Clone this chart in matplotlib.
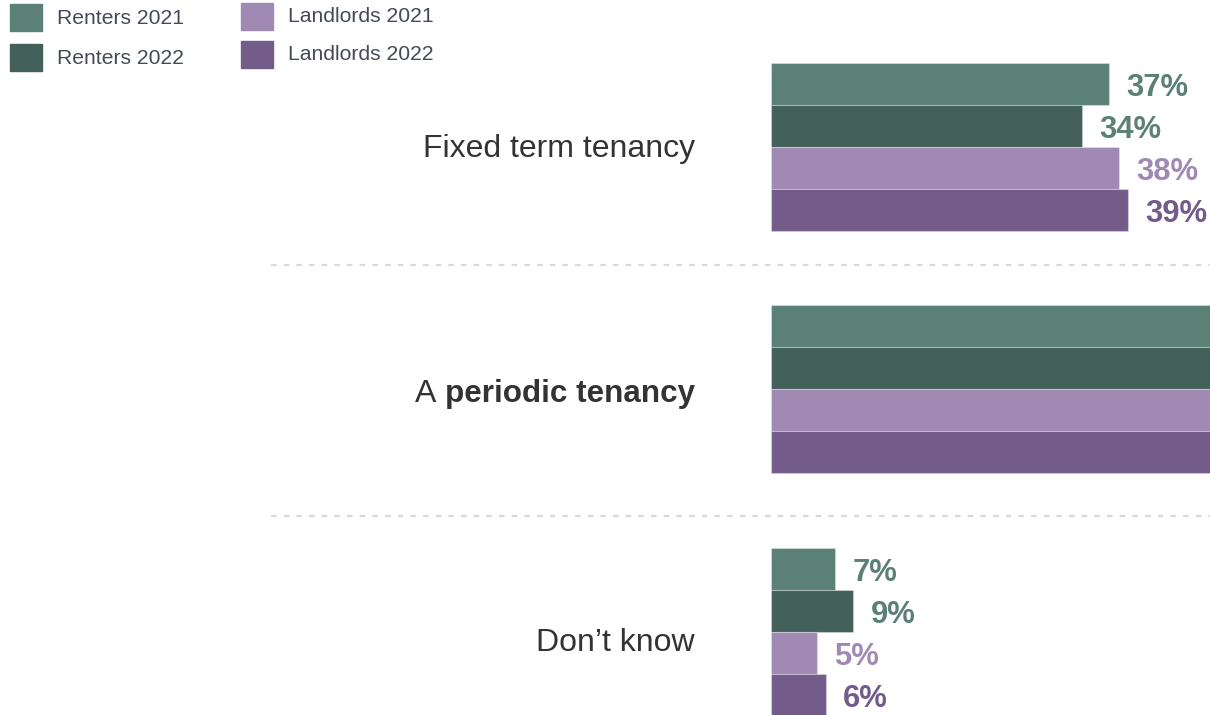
import numpy as np
import matplotlib
matplotlib.use("Agg")
import matplotlib.pyplot as plt
from matplotlib.patches import Rectangle
import matplotlib.transforms as mtransforms

plt.rcParams["font.family"] = ["Liberation Sans", "DejaVu Sans"]

# ── Data ───────────────────────────────────────────────────
categories = ["Fixed term tenancy", "A periodic tenancy", "Don\u2019t know"]
series = ["Renters 2021", "Renters 2022", "Landlords 2021", "Landlords 2022"]
renters_2021 = [37, 56, 7]
renters_2022 = [34, 57, 9]
landlords_2021 = [38, 57, 5]
landlords_2022 = [39, 55, 6]
values = [renters_2021, renters_2022, landlords_2021, landlords_2022]

bar_colors = ["#5b8177", "#44605a", "#a08ab3", "#745c8a"]
label_colors = ["#5b8177", "#5b8177", "#a08ab3", "#745c8a"]
text_color = "#333333"
legend_text = "#444a58"

W, H = 1210, 715
fig = plt.figure(figsize=(W / 100, H / 100), dpi=100)

# axes holding the bars (pixel geometry from the reference)
ax = fig.add_axes([771 / W, 0, 439 / W, 1])
ax.set_xlim(0, 48)
px_per_unit = 242.5
top = -146.5 / px_per_unit
ax.set_ylim(top + H / px_per_unit, top)
ax.axis("off")

h = 42 / px_per_unit
offsets = (np.arange(4) - 1.5) * h
ypos = np.arange(len(categories))

for k, (vals, c, lc) in enumerate(zip(values, bar_colors, label_colors)):
    bars = ax.barh(ypos + offsets[k], vals, height=h, color=c,
                   edgecolor=(1, 1, 1, 0.3), linewidth=0.8, zorder=2)
    for b, v in zip(bars, vals):
        ax.annotate(f"{v}%", xy=(v, b.get_y() + h / 2), xytext=(12.5, -3.3),
                    textcoords="offset points", ha="left", va="center",
                    fontsize=22.3, fontweight="bold", color=lc,
                    annotation_clip=True, clip_on=True)

# dashed separators running out to the left of the bars
trans = mtransforms.blended_transform_factory(fig.transFigure, ax.transData)
for y in [0.49, 1.525]:
    ax.plot([271 / W, 1.0], [y, y], transform=trans, clip_on=False,
            color="#dcd6e3", lw=1.6, ls=(0, (2.5, 3.2)), zorder=1)

# category labels
lab_off = -76 * 0.72
label_dy = [-1.6, -3.4, -8.4]
for i, cat in enumerate(categories):
    if cat.startswith("A "):
        bold = ax.annotate(cat[2:], xy=(0, i), xytext=(lab_off, label_dy[i]),
                           textcoords="offset points", ha="right", va="center",
                           fontsize=22.6, fontweight="bold", color=text_color)
        ax.annotate("A", xy=(0, 0.5), xycoords=bold, xytext=(-6.5, 0),
                    textcoords="offset points", ha="right", va="center",
                    fontsize=23, color=text_color)
    else:
        ax.annotate(cat, xy=(0, i), xytext=(lab_off, label_dy[i]),
                    textcoords="offset points", ha="right", va="center",
                    fontsize=23, color=text_color)

# legend (two columns, square swatches)
sw = [(10, 4), (10, 44), (241, 3), (241, 41)]
for name, c, (x0, y0) in zip(series, bar_colors, sw):
    fig.add_artist(Rectangle((x0 / W, 1 - (y0 + 27) / H), 32 / W, 27 / H,
                             transform=fig.transFigure, color=c))
    fig.text((x0 + 47) / W, 1 - (y0 + 14) / H, name, ha="left", va="center",
             fontsize=15.2, color=legend_text)

fig.savefig("out.png", dpi=100)
